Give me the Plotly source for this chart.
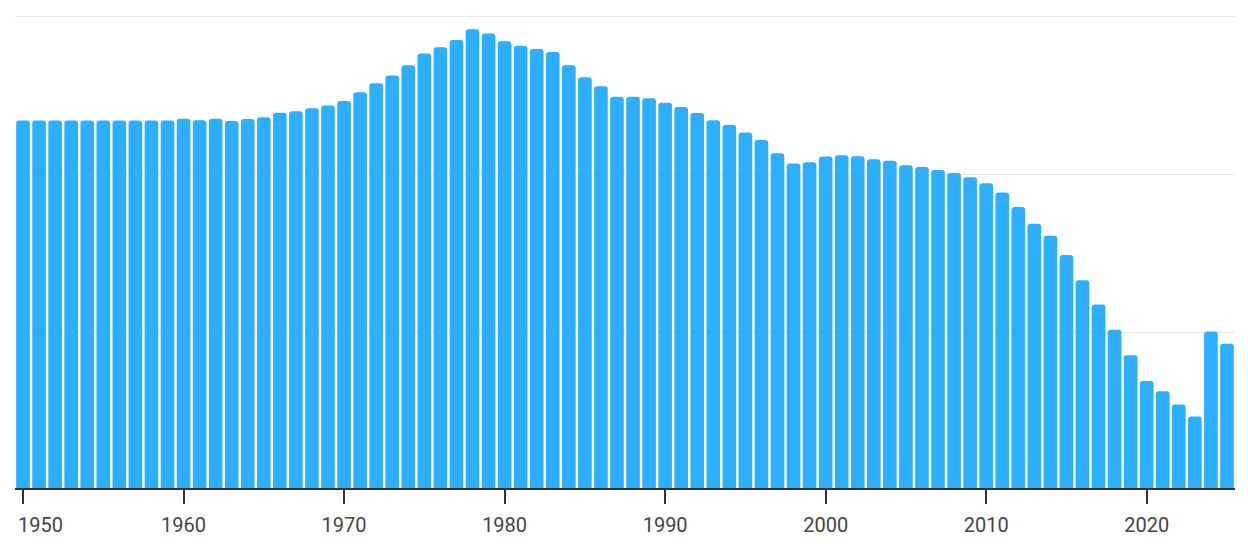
import plotly.graph_objects as go

years = list(range(1950, 2026))
values = [
    234.2, 234.2, 234.2, 234.2, 234.2, 234.2, 234.2, 234.2, 234.2, 234.2,  # 1950-1959
    235.3, 234.3, 235.3, 233.9, 235.1, 236.2, 239.1, 240.0, 241.9, 243.7,  # 1960-1969
    246.5, 252.1, 257.8, 262.6, 269.1, 276.5, 280.5, 285.1, 291.8, 289.1,  # 1970-1979
    284.3, 281.5, 279.4, 277.5, 269.1, 261.6, 255.9, 249.2, 249.2, 248.3,  # 1980-1989
    245.4, 242.7, 238.9, 234.3, 231.3, 226.7, 221.9, 213.5, 207.0, 207.8,  # 1990-1999
    211.4, 212.3, 211.6, 209.7, 208.7, 206.0, 204.9, 203.0, 201.1, 198.4,  # 2000-2009
    194.6, 188.7, 179.5, 169.0, 161.4, 149.3, 133.3, 118.0, 102.0, 85.8,   # 2010-2019
    69.6, 63.1, 54.8, 47.2, 100.9, 93.2,                                   # 2020-2025
]
x_ticks = [1950, 1960, 1970, 1980, 1990, 2000, 2010, 2020]
x_labels = ["1950", "1960", "1970", "1980", "1990", "2000", "2010", "2020"]
y_grid = [100, 200, 300]

FONT = dict(family="Roboto", size=20, color="#444")

fig = go.Figure(
    go.Bar(
        x=years,
        y=values,
        marker=dict(color="rgb(45,175,255)", line=dict(width=0)),
        hoverinfo="x+y",
    )
)

fig.update_layout(
    width=1232,
    height=531,
    margin=dict(l=7, r=5, t=6, b=51, autoexpand=False),
    paper_bgcolor="white",
    plot_bgcolor="white",
    bargap=0.15,
    barcornerradius=3,
    showlegend=False,
    font=FONT,
)

# first label is pushed inside the plot edge, as in the original
fig.add_annotation(
    x=0, xref="paper", xanchor="left", xshift=1,
    y=0, yref="paper", yanchor="top", yshift=-23,
    text=x_labels[0], showarrow=False, font=FONT,
)

fig.update_xaxes(
    range=[1949.5, 2025.5],
    automargin=False,
    tickmode="array",
    tickvals=x_ticks,
    ticktext=[""] + x_labels[1:],
    ticks="outside",
    ticklen=14,
    tickwidth=1.5,
    tickcolor="#333",
    ticklabelstandoff=4,
    showline=True,
    linecolor="#333",
    linewidth=1.5,
    showgrid=False,
    zeroline=False,
    tickfont=FONT,
)

fig.update_yaxes(
    range=[2, 301.5],
    automargin=False,
    tickmode="array",
    tickvals=y_grid,
    showticklabels=False,
    showgrid=True,
    gridcolor="#e6e6e6",
    gridwidth=1,
    zeroline=False,
    showline=False,
    ticks="",
)

fig.write_html("out.html")
